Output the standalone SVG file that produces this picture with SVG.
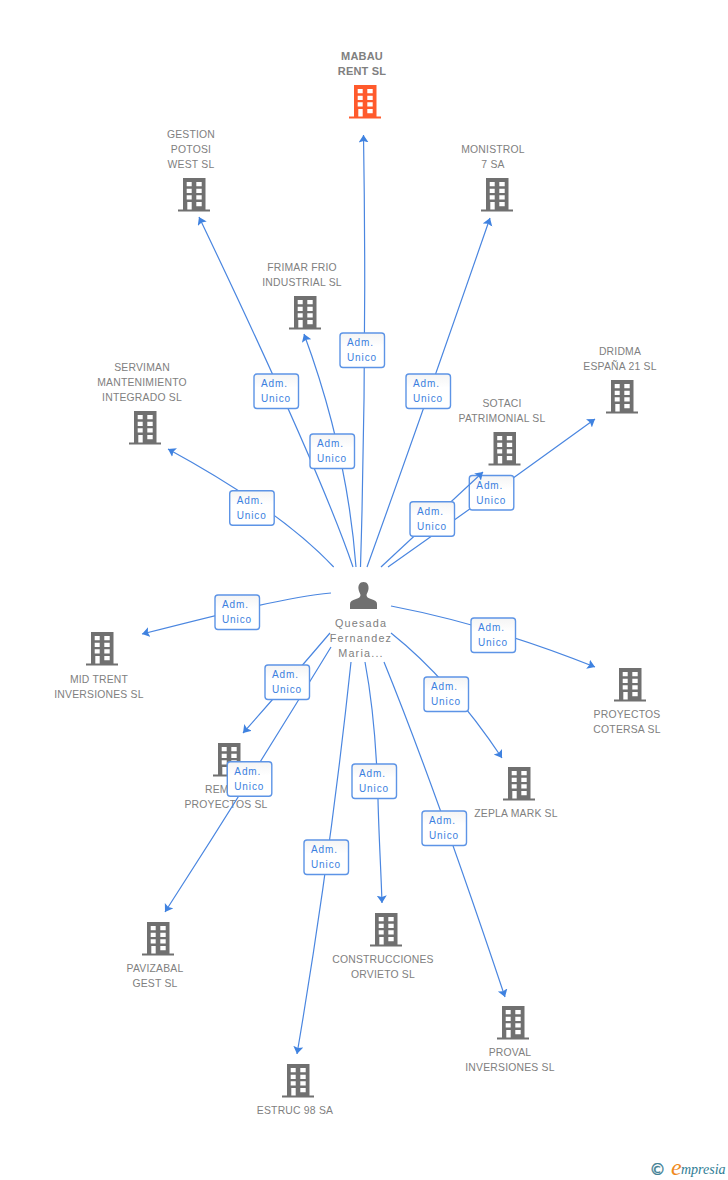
<svg xmlns="http://www.w3.org/2000/svg" width="728" height="1180" viewBox="0 0 728 1180">
<style>
.t{font-family:"Liberation Sans",Arial,sans-serif;font-size:10.4px;fill:#808080;text-anchor:middle;letter-spacing:.2px}
.b{font-weight:bold;font-size:11px}
.p{font-size:10.8px;letter-spacing:1.200px}
.e{fill:none;stroke:#4a86e0;stroke-width:1.2;marker-end:url(#a)}
.l{fill:url(#g);stroke:#5d94e6;stroke-width:1.4}
.lt{font-family:"Liberation Sans",Arial,sans-serif;font-size:10px;fill:#3b7fe0;letter-spacing:.9px;text-anchor:middle}
.i{fill:#707070;fill-rule:evenodd}
.o{fill:#ff5a2c;fill-rule:evenodd}
</style>
<defs>
<linearGradient id="g" x1="0" y1="0" x2="0" y2="1"><stop offset="0" stop-color="#f4f4f4"/><stop offset=".4" stop-color="#fff"/></linearGradient>
<marker id="a" markerUnits="userSpaceOnUse" markerWidth="12" markerHeight="12" refX="7.500" refY="5" orient="auto"><path d="M0 0L7.500 5L0 10L1.500 5Z" fill="#3f82e0"/></marker>
<path id="bld" d="M-11 0H11.500V31.500H16V33.500H-16V31.500H-11ZM-7.300 4V8.300H-2.300V4ZM2.300 4V8.300H7.700V4ZM-7.300 10.700V15H-2.300V10.700ZM2.300 10.700V15H7.700V10.700ZM-7.300 17.300V21.600H-2.300V17.300ZM2.300 17.300V21.600H7.700V17.300ZM-6.700 24V31.500H-2.300V24ZM2.300 24V28.300H7.700V24Z"/>
</defs>
<g id="node-mabau"><text class="t b" x="362" y="60">MABAU</text><text class="t b" x="362" y="75">RENT SL</text><use href="#bld" class="o" x="365" y="85"/></g>
<g id="node-gestion"><text class="t" x="191" y="138">GESTION</text><text class="t" x="191" y="153">POTOSI</text><text class="t" x="191" y="168">WEST SL</text><use href="#bld" class="i" x="194" y="178"/></g>
<g id="node-monistrol"><text class="t" x="493" y="153">MONISTROL</text><text class="t" x="493" y="168">7 SA</text><use href="#bld" class="i" x="497" y="178"/></g>
<g id="node-frimar"><text class="t" x="302" y="271">FRIMAR FRIO</text><text class="t" x="302" y="286">INDUSTRIAL SL</text><use href="#bld" class="i" x="305" y="296"/></g>
<g id="node-serviman"><text class="t" x="142" y="371">SERVIMAN</text><text class="t" x="142" y="386">MANTENIMIENTO</text><text class="t" x="142" y="401">INTEGRADO SL</text><use href="#bld" class="i" x="145" y="411"/></g>
<g id="node-sotaci"><text class="t" x="502" y="407">SOTACI</text><text class="t" x="502" y="422">PATRIMONIAL SL</text><use href="#bld" class="i" x="504.500" y="432"/></g>
<g id="node-dridma"><text class="t" x="620" y="355">DRIDMA</text><text class="t" x="620" y="370">ESPAÑA 21 SL</text><use href="#bld" class="i" x="622" y="380"/></g>
<g id="node-midtrent"><use href="#bld" class="i" x="102" y="632"/><text class="t" x="99" y="683">MID TRENT</text><text class="t" x="99" y="698">INVERSIONES SL</text></g>
<g id="node-cotersa"><use href="#bld" class="i" x="630" y="668"/><text class="t" x="627" y="718">PROYECTOS</text><text class="t" x="627" y="733">COTERSA SL</text></g>
<g id="node-rem"><use href="#bld" class="i" x="229" y="743"/><text class="t" x="205" y="793" style="text-anchor:start">REM</text><text class="t" x="226" y="808">PROYECTOS SL</text></g>
<g id="node-zepla"><use href="#bld" class="i" x="519" y="767"/><text class="t" x="516" y="817">ZEPLA MARK SL</text></g>
<g id="node-pavizabal"><use href="#bld" class="i" x="158" y="922"/><text class="t" x="155" y="972">PAVIZABAL</text><text class="t" x="155" y="987">GEST SL</text></g>
<g id="node-orvieto"><use href="#bld" class="i" x="386" y="913"/><text class="t" x="383" y="963">CONSTRUCCIONES</text><text class="t" x="383" y="978">ORVIETO SL</text></g>
<g id="node-proval"><use href="#bld" class="i" x="513" y="1006"/><text class="t" x="510" y="1056">PROVAL</text><text class="t" x="510" y="1071">INVERSIONES SL</text></g>
<g id="node-estruc"><use href="#bld" class="i" x="298" y="1064"/><text class="t" x="295" y="1114">ESTRUC 98 SA</text></g>
<g id="node-person"><path fill="#707070" d="M363.500 582C359.500 582 358 585.500 358.500 589C358.800 591.500 360 593 360.500 595C360.500 597 359 598 356 599C352 600.300 350 601.500 350 604V609H377V604C377 601.500 375 600.300 371 599C368 598 366.500 597 366.500 595C367 593 368.200 591.500 368.500 589C369 585.500 367.500 582 363.500 582Z"/><text class="t p" x="361" y="627">Quesada</text><text class="t p" x="361" y="642">Fernandez</text><text class="t p" x="361" y="657">Maria...</text></g>
<g id="connectors">
<path class="e" d="M360.500 567Q367 350 363.500 135"/>
<path class="e" d="M353 567Q320 470 199 217"/>
<path class="e" d="M356 567Q347 450 304 334"/>
<path class="e" d="M367 567Q420 420 490 218"/>
<path class="e" d="M333.700 567Q280 510 168 449"/>
<path class="e" d="M388 567Q490 495 595 419"/>
<path class="e" d="M331 593C290 597 240 609 142 634"/>
<path class="e" d="M391 606Q490 625 595 667"/>
<path class="e" d="M391 633Q450 680 502 758"/>
<path class="e" d="M330 633Q290 680 243 733"/>
<path class="e" d="M331 647Q250 780 165 912"/>
<path class="e" d="M351 662Q330 860 297 1054"/>
<path class="e" d="M365 662C374 710 377 760 378 800C379 840 381 870 382 903"/>
<path class="e" d="M384 662Q434 785 505 997"/>
<g id="labels">
<g transform="translate(340 333)"><rect class="l" width="44.500" height="34.500" rx="3"/><text class="lt" x="20.500" y="13.300">Adm.</text><text class="lt" x="22" y="28.300">Unico</text></g>
<g transform="translate(254 374)"><rect class="l" width="44.500" height="34.500" rx="3"/><text class="lt" x="20.500" y="13.300">Adm.</text><text class="lt" x="22" y="28.300">Unico</text></g>
<g transform="translate(310 434)"><rect class="l" width="44.500" height="34.500" rx="3"/><text class="lt" x="20.500" y="13.300">Adm.</text><text class="lt" x="22" y="28.300">Unico</text></g>
<g transform="translate(406 374)"><rect class="l" width="44.500" height="34.500" rx="3"/><text class="lt" x="20.500" y="13.300">Adm.</text><text class="lt" x="22" y="28.300">Unico</text></g>
<g transform="translate(229.700 490.700)"><rect class="l" width="44.500" height="34.500" rx="3"/><text class="lt" x="20.500" y="13.300">Adm.</text><text class="lt" x="22" y="28.300">Unico</text></g>
<g transform="translate(469.300 475.500)"><rect class="l" width="44.500" height="34.500" rx="3"/><text class="lt" x="20.500" y="13.300">Adm.</text><text class="lt" x="22" y="28.300">Unico</text></g>
<path class="e" d="M381 567L483 472"/>
<g transform="translate(410 501.700)"><rect class="l" width="44.500" height="34.500" rx="3"/><text class="lt" x="20.500" y="13.300">Adm.</text><text class="lt" x="22" y="28.300">Unico</text></g>
<g transform="translate(215 595)"><rect class="l" width="44.500" height="34.500" rx="3"/><text class="lt" x="20.500" y="13.300">Adm.</text><text class="lt" x="22" y="28.300">Unico</text></g>
<g transform="translate(471 618)"><rect class="l" width="44.500" height="34.500" rx="3"/><text class="lt" x="20.500" y="13.300">Adm.</text><text class="lt" x="22" y="28.300">Unico</text></g>
<g transform="translate(265 665)"><rect class="l" width="44.500" height="34.500" rx="3"/><text class="lt" x="20.500" y="13.300">Adm.</text><text class="lt" x="22" y="28.300">Unico</text></g>
<g transform="translate(424 677)"><rect class="l" width="44.500" height="34.500" rx="3"/><text class="lt" x="20.500" y="13.300">Adm.</text><text class="lt" x="22" y="28.300">Unico</text></g>
<g transform="translate(227.300 761.700)"><rect class="l" width="44.500" height="34.500" rx="3"/><text class="lt" x="20.500" y="13.300">Adm.</text><text class="lt" x="22" y="28.300">Unico</text></g>
<g transform="translate(352 764)"><rect class="l" width="44.500" height="34.500" rx="3"/><text class="lt" x="20.500" y="13.300">Adm.</text><text class="lt" x="22" y="28.300">Unico</text></g>
<g transform="translate(422 811)"><rect class="l" width="44.500" height="34.500" rx="3"/><text class="lt" x="20.500" y="13.300">Adm.</text><text class="lt" x="22" y="28.300">Unico</text></g>
<g transform="translate(304 840)"><rect class="l" width="44.500" height="34.500" rx="3"/><text class="lt" x="20.500" y="13.300">Adm.</text><text class="lt" x="22" y="28.300">Unico</text></g>
</g>
</g>
<g id="logo">
<text x="657.500" y="1175" font-family="'DejaVu Sans',sans-serif" font-size="16" fill="#3f7f95" stroke="#3f7f95" stroke-width=".4" text-anchor="middle">©</text>
<text x="671" y="1175" font-family="'Liberation Serif',serif" font-style="italic" font-size="24" fill="#f08a1c">e</text>
<text x="681" y="1174" font-family="'Liberation Serif',serif" font-style="italic" font-size="14" fill="#2f7d95">mpresia</text>
</g>
</svg>
